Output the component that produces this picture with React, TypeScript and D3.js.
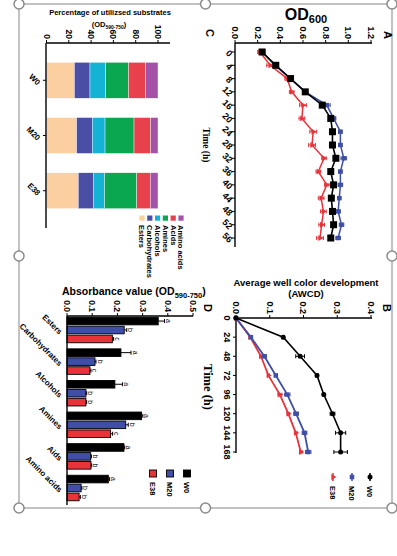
import React from "react";
import * as d3 from "d3";

// ---- panel A: OD600 growth curves
const timeA = [0, 4, 8, 12, 16, 20, 24, 28, 32, 36, 40, 44, 48, 52, 56];
const odW0 = [0.24, 0.36, 0.49, 0.62, 0.77, 0.845, 0.86, 0.86, 0.89, 0.845, 0.87, 0.85, 0.86, 0.87, 0.845];
const odM20 = [0.24, 0.35, 0.49, 0.62, 0.81, 0.87, 0.93, 0.93, 0.96, 0.93, 0.93, 0.92, 0.91, 0.94, 0.91];
const odE38 = [0.22, 0.31, 0.46, 0.5, 0.6, 0.59, 0.69, 0.68, 0.785, 0.735, 0.81, 0.76, 0.78, 0.765, 0.75];
const odErrW0 = [0.01, 0.01, 0.01, 0.02, 0.02, 0.01, 0.01, 0.01, 0.01, 0.01, 0.02, 0.01, 0.01, 0.01, 0.01];
const odErrM20 = [0.01, 0.01, 0.01, 0.02, 0.03, 0.02, 0.015, 0.015, 0.025, 0.015, 0.02, 0.015, 0.02, 0.02, 0.02];
const odErrE38 = [0.02, 0.03, 0.02, 0.02, 0.03, 0.025, 0.03, 0.03, 0.02, 0.02, 0.02, 0.025, 0.025, 0.025, 0.03];
const odTicks = [0, 0.2, 0.4, 0.6, 0.8, 1.0, 1.2];

// ---- panel B: AWCD
const timeB = [0, 24, 48, 72, 96, 120, 144, 168];
const awcdW0 = [0, 0.14, 0.19, 0.24, 0.26, 0.286, 0.31, 0.31];
const awcdM20 = [0, 0.044, 0.084, 0.118, 0.152, 0.178, 0.203, 0.214];
const awcdE38 = [0, 0.042, 0.074, 0.096, 0.13, 0.155, 0.177, 0.192];
const awcdErrW0 = [0, 0.003, 0.013, 0.004, 0.003, 0.007, 0.015, 0.02];
const awcdErrM20 = [0, 0.004, 0.006, 0.004, 0.008, 0.007, 0.007, 0.008];
const awcdErrE38 = [0, 0.003, 0.004, 0.003, 0.006, 0.004, 0.004, 0.004];
const awcdTicks = [0, 0.1, 0.2, 0.3, 0.4];

// ---- panel C: percentage of substrates
const groups = ["W0", "M20", "E38"];
const substrates = ["Esters", "Carbohydrates", "Alcohols", "Amines", "Acids", "Amino acids"];
const pctW0 = [25, 14, 14, 20.5, 15.5, 11];
const pctM20 = [27, 14, 11.5, 26, 15, 6.5];
const pctE38 = [28.5, 13.5, 10, 29, 12, 7];
const pctTicks = [0, 20, 40, 60, 80, 100];
const subColors = ["#fccfa0", "#4a4fa5", "#14b3d6", "#0aa650", "#e8414b", "#a451a8"];

// ---- panel D: absorbance by substrate (axis labels as printed, "Aids")
const absLabels = ["Esters", "Carbohydrates", "Alcohols", "Amines", "Aids", "Amino acids"];
const absW0 = [0.362, 0.214, 0.19, 0.296, 0.226, 0.164];
const absM20 = [0.227, 0.111, 0.075, 0.233, 0.094, 0.056];
const absE38 = [0.18, 0.091, 0.075, 0.173, 0.095, 0.048];
const absErrW0 = [0.025, 0.04, 0.03, 0.005, 0.003, 0.005];
const absErrM20 = [0.01, 0.004, 0.003, 0.01, 0.003, 0.003];
const absErrE38 = [0.005, 0.004, 0.003, 0.008, 0.003, 0.005];
const lettersW0 = ["a", "a", "a", "a", "a", "a"];
const lettersM20 = ["b", "b", "b", "b", "b", "b"];
const lettersE38 = ["c", "c", "b", "c", "b", "b"];
const absTicks = [0, 0.1, 0.2, 0.3, 0.4, 0.5];

const seriesColors = { W0: "#000000", M20: "#3f4ea6", E38: "#e8333b" };

const SANS = "'Liberation Sans', Arial, sans-serif";
const SERIF = "'Liberation Serif', 'Times New Roman', serif";

// value axis drawn horizontally, with labels rotated 90deg above it
function ValueAxis({ scale, y, ticks, fmt, end, fs = 9 }) {
  const [x0] = scale.range();
  return (
    <g>
      <line x1={x0} x2={end} y1={y} y2={y} stroke="#000" strokeWidth={1.4} />
      {ticks.map((t) => (
        <g key={t}>
          <line x1={scale(t)} x2={scale(t)} y1={y} y2={y - 3} stroke="#000" strokeWidth={1} />
          <text
            transform={`translate(${scale(t)},${y - 4}) rotate(90)`}
            textAnchor="end"
            dy="0.35em"
            fontSize={fs}
            fontWeight="bold"
          >
            {fmt(t)}
          </text>
        </g>
      ))}
    </g>
  );
}

function RotLabel({ x, y, text, fs, angle = 90, anchor = "middle", weight = "bold", family = SANS }) {
  return (
    <text
      transform={`translate(${x},${y}) rotate(${angle})`}
      textAnchor={anchor}
      dy="0.35em"
      fontSize={fs}
      fontWeight={weight}
      fontFamily={family}
    >
      {text}
    </text>
  );
}

function marker(kind, x, y, color, size) {
  if (kind === "circle") return <circle cx={x} cy={y} r={size / 2} fill={color} />;
  if (kind === "square")
    return <rect x={x - size / 2} y={y - size / 2} width={size} height={size} fill={color} />;
  const path = d3.symbol(d3.symbolTriangle, size * size * 0.6)();
  return <path d={path} transform={`translate(${x},${y}) rotate(90)`} fill={color} />;
}

function LineSeries({ xs, ys, errs, xScale, yScale, color, kind, size, width }) {
  const pts = xs.map((t, i) => [xScale(ys[i]), yScale(t)]);
  const line = d3.line()(pts as [number, number][]);
  return (
    <g>
      {xs.map((t, i) =>
        errs[i] > 0 ? (
          <g key={"e" + i} stroke={color} strokeWidth={1}>
            <line x1={xScale(ys[i] - errs[i])} x2={xScale(ys[i] + errs[i])} y1={yScale(t)} y2={yScale(t)} />
            <line x1={xScale(ys[i] - errs[i])} x2={xScale(ys[i] - errs[i])} y1={yScale(t) - 2} y2={yScale(t) + 2} />
            <line x1={xScale(ys[i] + errs[i])} x2={xScale(ys[i] + errs[i])} y1={yScale(t) - 2} y2={yScale(t) + 2} />
          </g>
        ) : null
      )}
      <path d={line} fill="none" stroke={color} strokeWidth={width} />
      {pts.map((p, i) => <g key={"m" + i}>{marker(kind, p[0], p[1], color, size)}</g>)}
    </g>
  );
}

function PanelA() {
  const x = d3.scaleLinear().domain([0, 1.2]).range([235, 371]);
  const y = d3.scaleLinear().domain([0, 56]).range([52, 238]);
  return (
    <g>
      <text x={306} y={20} textAnchor="middle" fontWeight="bold" fontSize={16}>
        OD<tspan fontSize={11} dy={3}>600</tspan>
      </text>
      <ValueAxis scale={x} y={43} ticks={odTicks} fmt={d3.format(".1f")} end={372} />
      <line x1={235} x2={235} y1={43} y2={247} stroke="#000" strokeWidth={1.4} />
      {timeA.map((t) => (
        <g key={t}>
          <line x1={232} x2={235} y1={y(t)} y2={y(t)} stroke="#000" />
          <RotLabel x={231} y={y(t) + 3} text={String(t)} fs={9} angle={45} anchor="end" />
        </g>
      ))}
      <RotLabel x={206} y={145} text="Time (h)" fs={9.5} family={SERIF} />
      <LineSeries xs={timeA} ys={odE38} errs={odErrE38} xScale={x} yScale={y} color={seriesColors.E38} kind="triangle" size={5} width={1.5} />
      <LineSeries xs={timeA} ys={odM20} errs={odErrM20} xScale={x} yScale={y} color={seriesColors.M20} kind="square" size={4.5} width={1.5} />
      <LineSeries xs={timeA} ys={odW0} errs={odErrW0} xScale={x} yScale={y} color={seriesColors.W0} kind="square" size={7} width={1.6} />
      <RotLabel x={388} y={35} text="A" fs={11} />
      <RotLabel x={210} y={33} text="C" fs={11} />
    </g>
  );
}

function PanelB() {
  const x = d3.scaleLinear().domain([0, 0.4]).range([236, 371]);
  const y = d3.scaleLinear().domain([0, 168]).range([318, 452]);
  const legend = [
    { name: "W0", kind: "circle", size: 5, cx: 370 },
    { name: "M20", kind: "square", size: 4.5, cx: 352 },
    { name: "E38", kind: "triangle", size: 5, cx: 333 },
  ];
  return (
    <g>
      <text x={306} y={285.5} textAnchor="middle" fontWeight="bold" fontSize={9.5}>
        Average well color development
      </text>
      <text x={306} y={296.5} textAnchor="middle" fontWeight="bold" fontSize={9.5}>
        (AWCD)
      </text>
      <ValueAxis scale={x} y={318} ticks={awcdTicks} fmt={d3.format(".1f")} end={372} />
      <line x1={236} x2={236} y1={318} y2={453} stroke="#000" strokeWidth={1.4} />
      {timeB.map((t) => (
        <g key={t}>
          <line x1={233} x2={236} y1={y(t)} y2={y(t)} stroke="#000" />
          <RotLabel x={227} y={y(t)} text={String(t)} fs={9} />
        </g>
      ))}
      <RotLabel x={208} y={387} text="Time (h)" fs={12.5} family={SERIF} />
      <LineSeries xs={timeB} ys={awcdE38} errs={awcdErrE38} xScale={x} yScale={y} color={seriesColors.E38} kind="triangle" size={5} width={1.8} />
      <LineSeries xs={timeB} ys={awcdM20} errs={awcdErrM20} xScale={x} yScale={y} color={seriesColors.M20} kind="square" size={4.5} width={1.8} />
      <LineSeries xs={timeB} ys={awcdW0} errs={awcdErrW0} xScale={x} yScale={y} color={seriesColors.W0} kind="circle" size={5} width={1.6} />
      {legend.map((l) => (
        <g key={l.name}>
          <line x1={l.cx} x2={l.cx} y1={473} y2={481} stroke={seriesColors[l.name]} strokeWidth={1.5} />
          {marker(l.kind, l.cx, 477, seriesColors[l.name], l.size)}
          <RotLabel x={l.cx} y={486} text={l.name} fs={7.5} anchor="start" />
        </g>
      ))}
      <RotLabel x={387} y={308} text="B" fs={11} />
      <RotLabel x={208} y={308} text="D" fs={11} />
    </g>
  );
}

function PanelC() {
  const x = d3.scaleLinear().domain([0, 100]).range([46.5, 158]);
  const y = d3.scaleBand().domain(groups).range([43, 228]).paddingInner(0.35).paddingOuter(0.35);
  const rows = [pctW0, pctM20, pctE38];
  const stack = rows.map((r) => {
    let acc = 0;
    return r.map((v) => {
      const s = [acc, acc + v];
      acc += v;
      return s;
    });
  });
  return (
    <g>
      <text x={110} y={15} textAnchor="middle" fontWeight="bold" fontSize={7.5}>
        Percentage of utilizsed substrates
      </text>
      <text x={109} y={27} textAnchor="middle" fontWeight="bold" fontSize={7.5}>
        (OD<tspan fontSize={5} dy={2}>590-750</tspan>
        <tspan dy={-2}>)</tspan>
      </text>
      {stack.map((segs, gi) =>
        segs.map((s, si) => (
          <rect
            key={gi + "-" + si}
            x={x(s[0])}
            y={y(groups[gi])}
            width={x(s[1]) - x(s[0])}
            height={y.bandwidth()}
            fill={subColors[si]}
            stroke="#fff"
            strokeWidth={0.4}
          />
        ))
      )}
      <ValueAxis scale={x} y={43} ticks={pctTicks} fmt={(d) => String(d)} end={170} fs={8.5} />
      <line x1={46} x2={46} y1={43} y2={228} stroke="#000" strokeWidth={1.4} />
      {groups.map((g) => (
        <g key={g}>
          <line x1={43} x2={46} y1={y(g) + y.bandwidth() / 2} y2={y(g) + y.bandwidth() / 2} stroke="#000" />
          <RotLabel x={39} y={y(g) + y.bandwidth() / 2 + 3.5} text={g} fs={8} angle={45} anchor="end" />
        </g>
      ))}
      {substrates.map((s, i) => {
        const cx = 142 + i * 7.8;
        return (
          <g key={s}>
            <rect x={cx - 2.6} y={215.5} width={5.2} height={5.2} fill={subColors[i]} />
            <RotLabel x={cx} y={225} text={s} fs={7.5} anchor="start" />
          </g>
        );
      })}
    </g>
  );
}

function PanelD() {
  const x = d3.scaleLinear().domain([0, 0.5]).range([67, 193]);
  const y = d3.scaleBand().domain(absLabels).range([314.2, 503.8]);
  const series = [
    { name: "W0", vals: absW0, errs: absErrW0, letters: lettersW0 },
    { name: "M20", vals: absM20, errs: absErrM20, letters: lettersM20 },
    { name: "E38", vals: absE38, errs: absErrE38, letters: lettersE38 },
  ];
  const inner = d3.scaleBand().domain(series.map((s) => s.name)).range([-12.75, 12.75]).paddingInner(0.15);
  const legendX = d3.scalePoint().domain(["E38", "M20", "W0"]).range([153, 187]);
  return (
    <g>
      <text x={62} y={295} fontWeight="bold" fontSize={10.5}>
        Absorbance value (OD<tspan fontSize={7.5} dy={2.5}>590-750</tspan>
        <tspan dy={-2.5}>)</tspan>
      </text>
      {series.map((s) =>
        absLabels.map((sub, i) => {
          const yc = y(sub) + y.bandwidth() / 2 + inner(s.name) + inner.bandwidth() / 2;
          const h = inner.bandwidth();
          const xe = x(s.vals[i] + s.errs[i]);
          return (
            <g key={s.name + sub}>
              <rect x={x(0)} y={yc - h / 2} width={x(s.vals[i]) - x(0)} height={h} fill={seriesColors[s.name]} stroke="#000" strokeWidth={0.9} />
              <line x1={x(s.vals[i])} x2={xe} y1={yc} y2={yc} stroke="#000" strokeWidth={1} />
              <line x1={xe} x2={xe} y1={yc - 2} y2={yc + 2} stroke="#000" strokeWidth={1} />
              <RotLabel x={xe + 4} y={yc} text={s.letters[i]} fs={7} weight="normal" />
            </g>
          );
        })
      )}
      <ValueAxis scale={x} y={316} ticks={absTicks} fmt={d3.format(".1f")} end={193} fs={8.5} />
      <line x1={67} x2={67} y1={316} y2={505} stroke="#000" strokeWidth={1.4} />
      {absLabels.map((sub) => (
        <RotLabel key={sub} x={61} y={y(sub) + y.bandwidth() / 2 + 3} text={sub} fs={8} angle={45} anchor="end" />
      ))}
      {series.map((s) => (
        <g key={s.name}>
          <rect x={legendX(s.name) - 3.5} y={470} width={7} height={7} fill={seriesColors[s.name]} stroke="#000" strokeWidth={0.9} />
          <RotLabel x={legendX(s.name)} y={482} text={s.name} fs={7.5} anchor="start" />
        </g>
      ))}
    </g>
  );
}

export default function App() {
  const handles = [
    [19, 4], [205.5, 4], [392, 4],
    [19, 256], [392, 256],
    [19, 508], [205.5, 508], [392, 508],
  ];
  return (
    <svg
      width={397}
      height={556}
      style={{ position: "absolute", left: 0, top: 0, background: "#fff" }}
      fontFamily={SANS}
    >
      <rect x={19} y={4} width={373} height={504} fill="none" stroke="#9a9a9a" strokeWidth={1.2} />
      <PanelC />
      <PanelA />
      <PanelD />
      <PanelB />
      {handles.map((h, i) => (
        <circle key={i} cx={h[0]} cy={h[1]} r={5} fill="#fff" stroke="#8c8c8c" strokeWidth={1.5} />
      ))}
    </svg>
  );
}
